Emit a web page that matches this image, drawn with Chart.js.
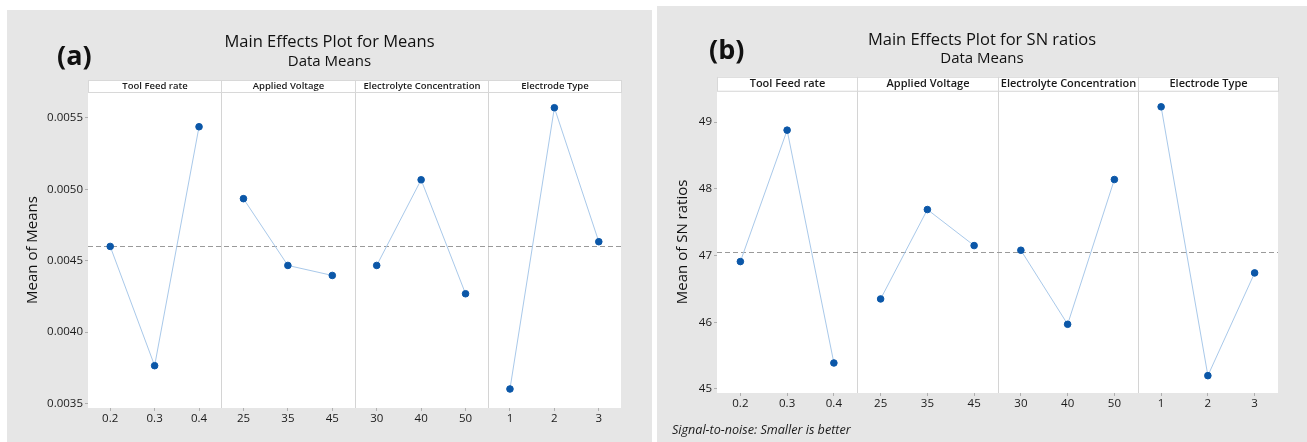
<!DOCTYPE html>
<html>
<head>
<meta charset="utf-8">
<script src="https://cdn.jsdelivr.net/npm/chart.js@4.4.1/dist/chart.umd.min.js"></script>
<style>
  body { margin: 0; background: #fff; width: 1307px; height: 442px; position: relative; overflow: hidden; font-family: "Open Sans", sans-serif; }
  .panel { position: absolute; background: #e6e6e6; }
  .panel canvas { position: absolute; left: 0; top: 0; }
  .tag { position: absolute; font-weight: bold; font-size: 27px; color: #111; line-height: 1; }
  .note { position: absolute; font-style: italic; font-size: 12.6px; color: #1a1a1a; }
</style>
</head>
<body>
<div class="panel" style="left:7px;top:10px;width:645px;height:432px">
  <canvas id="chartA" width="645" height="432"></canvas>
  <div class="tag" style="left:50px;top:31px">(a)</div>
</div>
<div class="panel" style="left:657px;top:6px;width:650px;height:436px">
  <canvas id="chartB" width="650" height="436"></canvas>
  <div class="tag" style="left:52px;top:29px">(b)</div>
  <div class="note" style="left:15px;top:415px">Signal-to-noise: Smaller is better</div>
</div>
<script>
// factors and their levels
const factors = ['Tool Feed rate', 'Applied Voltage', 'Electrolyte Concentration', 'Electrode Type'];
const levelLabels = ['0.2', '0.3', '0.4', '25', '35', '45', '30', '40', '50', '1', '2', '3'];

// (a) means
const meansFeed = [0.00460, 0.003766, 0.005437];
const meansVoltage = [0.004934, 0.004467, 0.004397];
const meansElectrolyte = [0.004467, 0.005066, 0.004269];
const meansElectrode = [0.003603, 0.005570, 0.004633];
const meansOverall = 0.00460;
const meansTicks = [0.0035, 0.0040, 0.0045, 0.0050, 0.0055];

// (b) SN ratios
const snFeed = [46.91, 48.88, 45.39];
const snVoltage = [46.35, 47.69, 47.15];
const snElectrolyte = [47.08, 45.97, 48.14];
const snElectrode = [49.23, 45.20, 46.74];
const snOverall = 47.06;
const snTicks = [45, 46, 47, 48, 49];

Chart.defaults.font.family = "'Open Sans', sans-serif";
Chart.defaults.color = '#1a1a1a';

// one dataset per factor, nulls outside its own group
function groupDatasets(groups) {
    return groups.map((vals, g) => {
        const data = levelLabels.map(() => null);
        vals.forEach((v, i) => { data[g * 3 + i] = v; });
        return {
            data: data,
            borderColor: '#a9c9ea',
            borderWidth: 1,
            pointBackgroundColor: '#0b57a8',
            pointBorderColor: '#0b57a8',
            pointRadius: 3.3,
            spanGaps: false,
            tension: 0
        };
    });
}

// white plot area, factor dividers, reference line and header strip
const panelPlugin = {
    id: 'panelPlugin',
    beforeDraw(chart) {
        const a = chart.chartArea;
        const ctx = chart.ctx;
        ctx.save();
        ctx.fillStyle = '#fff';
        ctx.fillRect(a.left, a.top, a.right - a.left, a.bottom - a.top);
        ctx.restore();
    },
    beforeDatasetsDraw(chart, args, opts) {
        const a = chart.chartArea;
        const ctx = chart.ctx;
        const x = chart.scales.x;
        const y = chart.scales.y;
        ctx.save();
        ctx.strokeStyle = '#d4d4d4';
        ctx.lineWidth = 1;
        for (let g = 1; g < 4; g++) {
            const px = Math.round((x.getPixelForValue(g * 3 - 1) + x.getPixelForValue(g * 3)) / 2) + 0.5;
            ctx.beginPath();
            ctx.moveTo(px, a.top);
            ctx.lineTo(px, a.bottom);
            ctx.stroke();
        }
        const py = Math.round(y.getPixelForValue(opts.mean)) + 0.5;
        ctx.strokeStyle = '#9a9a9a';
        ctx.setLineDash([5, 3]);
        ctx.beginPath();
        ctx.moveTo(a.left, py);
        ctx.lineTo(a.right, py);
        ctx.stroke();
        ctx.restore();
    },
    afterDraw(chart, args, opts) {
        const a = chart.chartArea;
        const ctx = chart.ctx;
        const x = chart.scales.x;
        const edges = [a.left];
        for (let g = 1; g < 4; g++) {
            edges.push((x.getPixelForValue(g * 3 - 1) + x.getPixelForValue(g * 3)) / 2);
        }
        edges.push(a.right);
        const h = opts.headerHeight;
        ctx.save();
        ctx.font = '600 ' + opts.headerSize + "px 'Open Sans', sans-serif";
        ctx.textAlign = 'center';
        ctx.textBaseline = 'middle';
        for (let g = 0; g < 4; g++) {
            const x0 = Math.round(edges[g]) + 0.5;
            const x1 = Math.round(edges[g + 1]) + 0.5;
            ctx.fillStyle = '#fff';
            ctx.fillRect(x0, a.top - h, x1 - x0, h);
            ctx.strokeStyle = '#d8d8d8';
            ctx.strokeRect(x0, a.top - h + 0.5, x1 - x0, h);
            ctx.fillStyle = '#1a1a1a';
            ctx.fillText(factors[g], (x0 + x1) / 2, a.top - h / 2 + 0.5);
        }
        ctx.restore();
    }
};

function makeChart(id, cfg) {
    return new Chart(document.getElementById(id), {
        type: 'line',
        data: { labels: levelLabels, datasets: groupDatasets(cfg.groups) },
        options: {
            responsive: false,
            animation: false,
            layout: { padding: 0 },
            plugins: {
                legend: { display: false },
                tooltip: { enabled: false },
                title: {
                    display: true,
                    text: cfg.title,
                    font: { size: 16.5, weight: 'normal' },
                    color: '#111',
                    padding: { top: cfg.titleTop, bottom: 0 }
                },
                subtitle: {
                    display: true,
                    text: 'Data Means',
                    font: { size: 15 },
                    color: '#111',
                    padding: { top: 0, bottom: cfg.subBottom }
                },
                panelPlugin: { mean: cfg.mean, headerHeight: cfg.headerHeight, headerSize: cfg.headerSize }
            },
            scales: {
                x: {
                    type: 'category',
                    offset: true,
                    border: { display: false },
                    grid: { drawOnChartArea: false, drawTicks: true, tickLength: 3, color: '#b0b0b0' },
                    ticks: { font: { size: 11.5 }, padding: 1, maxRotation: 0, autoSkip: false },
                    afterFit(scale) { scale.height = cfg.xHeight; }
                },
                y: {
                    type: 'linear',
                    min: cfg.min,
                    max: cfg.max,
                    border: { display: false },
                    grid: { drawOnChartArea: false, drawTicks: true, tickLength: 3, color: '#b0b0b0' },
                    ticks: { font: { size: 11.5 }, padding: 2, callback: cfg.tickFormat },
                    afterBuildTicks(scale) { scale.ticks = cfg.ticks.map(v => ({ value: v })); },
                    title: {
                        display: true,
                        text: cfg.yTitle,
                        font: { size: 15 },
                        color: '#111',
                        padding: { top: 17, bottom: 0 }
                    },
                    afterFit(scale) { scale.width = cfg.yWidth; }
                },
                // empty right margin so titles stay centred on the whole panel
                yRight: {
                    type: 'linear',
                    position: 'right',
                    border: { display: false },
                    grid: { display: false },
                    ticks: { display: false },
                    afterFit(scale) { scale.width = cfg.padRight; }
                }
            }
        },
        plugins: [panelPlugin]
    });
}

makeChart('chartA', {
    groups: [meansFeed, meansVoltage, meansElectrolyte, meansElectrode],
    title: 'Main Effects Plot for Means',
    yTitle: 'Mean of Means',
    mean: meansOverall,
    ticks: meansTicks,
    min: 0.00347,
    max: 0.00568,
    tickFormat: v => v.toFixed(4),
    titleTop: 22.6,
    subBottom: 21.6,
    headerHeight: 12,
    headerSize: 9.5,
    padRight: 31,
    yWidth: 81,
    xHeight: 34
});

makeChart('chartB', {
    groups: [snFeed, snVoltage, snElectrolyte, snElectrode],
    title: 'Main Effects Plot for SN ratios',
    yTitle: 'Mean of SN ratios',
    mean: snOverall,
    ticks: snTicks,
    min: 44.94,
    max: 49.47,
    tickFormat: v => String(v),
    titleTop: 24,
    subBottom: 23,
    headerHeight: 14,
    headerSize: 11,
    padRight: 29,
    yWidth: 60,
    xHeight: 49
});
</script>
</body>
</html>
